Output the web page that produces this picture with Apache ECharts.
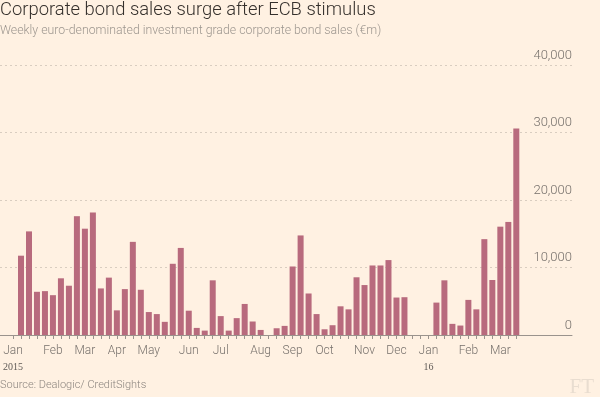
<!DOCTYPE html>
<html>
<head>
<meta charset="utf-8">
<style>
  html, body { margin: 0; padding: 0; background: #fff1e2; }
  #chart { width: 600px; height: 397px; }
</style>
<script src="https://cdn.jsdelivr.net/npm/echarts@6/dist/echarts.min.js"></script>
</head>
<body>
<div id="chart"></div>
<script>
// weekly sales (€m), first week of Jan 2015 to end of Mar 2016
const sales = [
  0, 11750, 15350, 6400, 6500, 5900, 8400, 7300, 17600, 15750,
  18150, 6900, 8500, 3650, 6800, 13800, 6700, 3400, 3100, 1950,
  10550, 12900, 3600, 1050, 650, 8100, 2800, 650, 2500, 4600,
  2000, 750, 0, 1000, 1350, 10150, 14750, 6150, 3100, 850,
  1450, 4250, 3800, 8550, 7400, 10300, 10300, 11100, 5550, 5600,
  0, 0, 0, 4800, 8100, 1650, 1400, 5200, 3800, 14200,
  8150, 16050, 16750, 30600
];
const weeks = sales.map((_, i) => 'w' + i);
const monthLabels = ['Jan', 'Feb', 'Mar', 'Apr', 'May', 'Jun', 'Jul', 'Aug', 'Sep', 'Oct', 'Nov', 'Dec', 'Jan', 'Feb', 'Mar'];
const monthStarts = [0, 5, 9, 13, 17, 22, 26, 31, 35, 39, 44, 48, 52, 57, 61];
const yearLabels = { 0: '2015', 52: '16' };

const grey = '#77716c';
const chart = echarts.init(document.getElementById('chart'));
chart.setOption({
  backgroundColor: '#fff1e2',
  animation: false,
  title: {
    text: 'Corporate bond sales surge after ECB stimulus',
    subtext: 'Weekly euro-denominated investment grade corporate bond sales (€m)',
    left: 0,
    top: 1,
    padding: 0,
    itemGap: 6,
    textStyle: { fontFamily: 'Roboto', fontWeight: 300, fontSize: 18.4, color: '#35302c' },
    subtextStyle: { fontFamily: 'Roboto', fontWeight: 300, fontSize: 12.3, color: '#9d968f' }
  },
  grid: [
    { left: 0, right: 28, top: 65, bottom: 62 },
    { left: 8.3, right: 79.7, top: 65, bottom: 62 }
  ],
  xAxis: [{
    gridIndex: 0,
    type: 'value',
    min: 0,
    max: 1,
    axisLine: { show: true, lineStyle: { color: '#9a938d', width: 1 } },
    axisTick: { show: false },
    axisLabel: { show: false },
    splitLine: { show: false }
  }, {
    gridIndex: 1,
    type: 'category',
    data: weeks,
    axisLine: { show: false },
    axisTick: {
      show: true,
      interval: 0,
      alignWithLabel: true,
      length: 4,
      lineStyle: { color: '#9a938d' }
    },
    axisLabel: {
      interval: (i) => monthStarts.indexOf(i) >= 0,
      margin: 8,
      formatter: (v, i) => {
        const m = monthLabels[monthStarts.indexOf(i)];
        return yearLabels[i] ? '{m|' + m + '}\n{y|' + yearLabels[i] + '}' : '{m|' + m + '}';
      },
      rich: {
        m: { fontFamily: 'Roboto', fontWeight: 300, fontSize: 12, color: grey, lineHeight: 16 },
        y: { fontFamily: 'Liberation Serif', fontSize: 10, color: '#5f5a56', lineHeight: 16 }
      }
    }
  }],
  yAxis: [{
    gridIndex: 0,
    type: 'value',
    position: 'right',
    min: 0,
    max: 40000,
    interval: 10000,
    axisLine: { show: false },
    axisTick: { show: false },
    axisLabel: {
      inside: true,
      margin: 0,
      verticalAlign: 'bottom',
      padding: [0, 0, 3, 0],
      fontFamily: 'Roboto',
      fontWeight: 300,
      fontSize: 13,
      color: grey,
      formatter: (v) => v.toLocaleString('en-US')
    },
    splitLine: { show: true, lineStyle: { color: '#d9cdc0', type: [2, 3], width: 1 } }
  }, {
    gridIndex: 1,
    type: 'value',
    min: 0,
    max: 40000,
    show: false
  }],
  series: [{
    type: 'bar',
    xAxisIndex: 1,
    yAxisIndex: 1,
    data: sales,
    barWidth: 6,
    itemStyle: { color: '#b86a7d' }
  }],
  graphic: [{
    type: 'text',
    left: 0,
    top: 380,
    style: { text: 'Source: Dealogic/ CreditSights', fontFamily: 'Roboto', fontWeight: 300, fontSize: 11, fill: '#8c857f' }
  }, {
    type: 'text',
    right: 6,
    top: 377,
    style: { text: 'FT', fontFamily: 'Liberation Serif', fontSize: 21, fill: '#e9ddd0' }
  }]
});
</script>
</body>
</html>
